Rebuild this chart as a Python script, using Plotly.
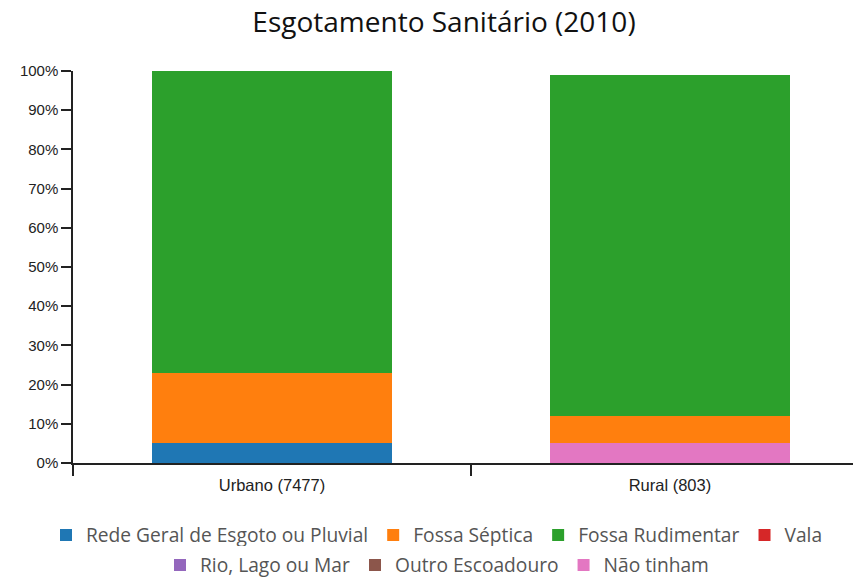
import plotly.graph_objects as go

categories = ["Urbano (7477)", "Rural (803)"]
series_names = ["Rede Geral de Esgoto ou Pluvial", "Fossa Séptica", "Fossa Rudimentar",
                "Vala", "Rio, Lago ou Mar", "Outro Escoadouro", "Não tinham"]
series_values = [
    [5.1, 0.0],    # Rede Geral
    [17.9, 6.9],   # Fossa Séptica
    [77.0, 87.0],  # Fossa Rudimentar
    [0.0, 0.0],    # Vala
    [0.0, 0.0],    # Rio, Lago ou Mar
    [0.0, 0.0],    # Outro Escoadouro
    [0.0, 5.1],    # Não tinham
]
colors = ["#1f77b4", "#ff7f0e", "#2ca02c", "#d62728", "#9467bd", "#8c564b", "#e377c2"]
# stacking order bottom-to-top as drawn in the reference (Não tinham sits at the base)
stack_order = [6, 0, 1, 2, 3, 4, 5]
# legend row for each series (first four on row 1, rest on row 2)
legend_row = ["legend", "legend", "legend", "legend", "legend2", "legend2", "legend2"]
y_ticks = [0, 10, 20, 30, 40, 50, 60, 70, 80, 90, 100]
y_tick_labels = [f"{v}%" for v in y_ticks]

W, H = 853, 577
L, T, B = 73, 71, 114

fig = go.Figure()
xpos = list(range(len(categories)))
for i in stack_order:
    fig.add_trace(go.Bar(x=xpos, y=series_values[i], name=series_names[i],
                         marker_color=colors[i], marker_line_width=0, width=0.603,
                         legendrank=i + 1, legend=legend_row[i]))

legend_font = dict(family="Open Sans", size=19.2, color="#555")
fig.update_layout(
    barmode="stack",
    width=W, height=H,
    paper_bgcolor="white", plot_bgcolor="white",
    margin=dict(l=L, r=0, t=T, b=B, autoexpand=False),
    title=dict(text="Esgotamento Sanitário (2010)", x=444 / W, xanchor="center",
               y=1 - 22 / H, yanchor="middle",
               font=dict(family="Open Sans", size=28, color="#111")),
    legend=dict(orientation="h", xref="container", x=437 / W, xanchor="center",
                yref="container", y=1 - 535 / H, yanchor="middle",
                font=legend_font, traceorder="normal", itemwidth=30, tracegroupgap=0),
    legend2=dict(orientation="h", xref="container", x=437 / W, xanchor="center",
                 yref="container", y=1 - 565 / H, yanchor="middle",
                 font=legend_font, traceorder="normal", itemwidth=30, tracegroupgap=0),
    font=dict(family="Liberation Sans, Arial", size=15, color="#222"),
    bargap=0,
)
fig.update_xaxes(range=[-0.5, 1.46], tickmode="array", tickvals=xpos, ticktext=categories,
                 showline=True, linecolor="#222", linewidth=1.5,
                 ticks="outside", ticklen=6, tickcolor="rgba(0,0,0,0)",
                 showgrid=False, zeroline=False, fixedrange=True, automargin=False,
                 tickfont=dict(family="Liberation Sans, Arial", size=16.5, color="#222"))
fig.update_xaxes(minor=dict(tickvals=[-0.5, 0.5, 1.5], ticks="outside", ticklen=11,
                            tickcolor="#222", tickwidth=1.5, showgrid=False))
fig.update_yaxes(range=[0, 100], tickmode="array", tickvals=y_ticks, ticktext=y_tick_labels,
                 showline=True, linecolor="#222", linewidth=1.5, ticks="outside",
                 ticklen=10, tickcolor="#222", tickwidth=1.5, showgrid=False,
                 zeroline=False, fixedrange=True, automargin=False,
                 tickfont=dict(family="Liberation Sans, Arial", size=15, color="#222"))

# remove the default page margin so the figure fills the 853x577 window exactly
fig.write_html("out.html", config={"displayModeBar": False},
               post_script="document.body.style.margin='0';")
